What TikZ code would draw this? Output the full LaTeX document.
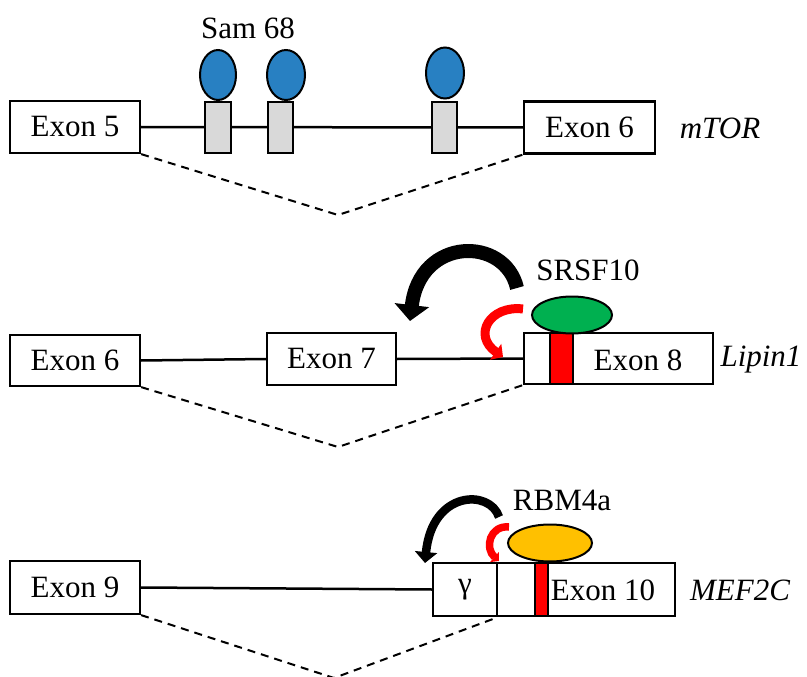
\documentclass[tikz,border=0pt]{standalone}
\usepackage{fontspec}
\setmainfont{Liberation Serif}
\usetikzlibrary{arrows.meta,shapes.geometric}
\definecolor{samblue}{RGB}{40,128,194}
\definecolor{greyfill}{RGB}{217,217,217}
\definecolor{srgreen}{RGB}{0,176,80}
\definecolor{rbyellow}{RGB}{255,192,0}
\definecolor{barred}{RGB}{255,0,0}
\begin{document}
\begin{tikzpicture}[x=1pt,y=-1pt,
  exon/.style={draw, line width=2.2pt, fill=white, rectangle, minimum height=52pt, inner sep=0pt, font=\fontsize{31}{36}\selectfont},
  lab/.style={font=\fontsize{31}{36}\selectfont, inner sep=0pt},
  gene/.style={font=\fontsize{31}{36}\selectfont\itshape, inner sep=0pt},
  intron/.style={line width=2.5pt},
  skip/.style={line width=2pt, dash pattern=on 8pt off 6pt},
  sitebox/.style={draw, line width=2pt, fill=greyfill, rectangle, minimum width=26pt, minimum height=51pt, inner sep=0pt},
  protein/.style={draw, line width=2pt, ellipse, inner sep=0pt},
  redbar/.style={draw, line width=1.8pt, fill=barred, rectangle, inner sep=0pt},
  bigarrow/.style={line width=#1, black},
  redarrow/.style={line width=#1, barred}
]
\useasboundingbox (0,0) rectangle (807,677);

% ---------- Row 1: mTOR ----------
\node[exon, minimum width=130pt] (e5) at (75,127) {Exon 5};
\node[exon, minimum width=131pt] (e6a) at (589.5,127.5) {Exon 6};
\draw[intron] (e5.east) -- (e6a.west);
\node[sitebox] (s1) at (218,127.5) {};
\node[sitebox, minimum width=25pt] (s2) at (280.5,127.5) {};
\node[sitebox, minimum width=25pt] (s3) at (444.5,127.5) {};
\node[protein, fill=samblue, minimum width=36pt, minimum height=50pt] (p1) at (218,75) {};
\node[protein, fill=samblue, minimum width=38pt, minimum height=50pt] (p2) at (286,75) {};
\node[protein, fill=samblue, minimum width=38pt, minimum height=51pt] (p3) at (445,73) {};
\node[lab] (sam) at (248,28) {Sam 68};
\node[gene] (mtor) at (720,128) {mTOR};
\coordinate (v1) at (338,215);
\draw[skip] (e5.south east) -- (v1) -- (e6a.south west);

% ---------- Row 2: Lipin1 ----------
\node[exon, minimum width=130pt, minimum height=51pt] (e6b) at (75,360.5) {Exon 6};
\node[exon, minimum width=129pt] (e7) at (331.5,359) {Exon 7};
\node[exon, minimum width=189pt, minimum height=51pt] (e8) at (618.5,358.5) {};
\draw[intron] (e6b.east) -- (e7.west);
\draw[intron] (e7.east) -- (e8.west);
\node[redbar, minimum width=23pt, minimum height=51pt] (rb1) at (561.5,358.5) {};
\node[lab] (t8) at (638,360) {Exon 8};
\node[protein, fill=srgreen, minimum width=80pt, minimum height=37pt] (srsf) at (572,315) {};
\node[lab] (srsflab) at (588,270) {SRSF10};
\node[gene] (lipin) at (761,360) {Lipin1};
\coordinate (v2) at (338,447);
\draw[skip] (e6b.south east) -- (v2) -- (e8.south west);
\coordinate (ba1) at (517,288);
\coordinate (bh1) at (410,321);
\draw[bigarrow=14pt, -{Triangle[width=34pt,length=16pt]}] (ba1) .. controls (505,236) and (420,236) .. (bh1);
\coordinate (ra1) at (523,309);
\coordinate (rh1) at (503,357);
\draw[redarrow=9pt, -{Triangle[width=19pt,length=9pt]}] (ra1) .. controls (490,305) and (472,335) .. (rh1);

% ---------- Row 3: MEF2C ----------
\node[exon, minimum width=130pt, minimum height=53pt] (e9) at (75,587.5) {Exon 9};
\node[exon, minimum width=64pt, minimum height=53pt] (gam) at (465,589.5) {γ};
\node[exon, minimum width=178pt, minimum height=53pt] (e10) at (586,589.5) {};
\draw[intron] (e9.east) -- (gam.west);
\node[redbar, minimum width=13pt, minimum height=53pt] (rb2) at (541.5,589.5) {};
\node[lab] (t10) at (603,590) {Exon 10};
\node[protein, fill=rbyellow, minimum width=84pt, minimum height=37pt] (rbm) at (550,543) {};
\node[lab] (rbmlab) at (562,500) {RBM4a};
\node[gene] (mef) at (740,590) {MEF2C};
\coordinate (v3) at (334,678);
\draw[skip] (e9.south east) -- (v3) -- (gam.south east);
\coordinate (ba2) at (499,517);
\coordinate (bh2) at (425,563);
\draw[bigarrow=8.5pt, -{Triangle[width=22pt,length=11pt]}] (ba2) .. controls (490,489) and (432,490) .. (bh2);
\coordinate (ra2) at (509,527);
\coordinate (rh2) at (499,561);
\draw[redarrow=7.5pt, -{Triangle[width=13pt,length=6pt]}] (ra2) .. controls (490,525) and (484,548) .. (rh2);
\end{tikzpicture}
\end{document}
